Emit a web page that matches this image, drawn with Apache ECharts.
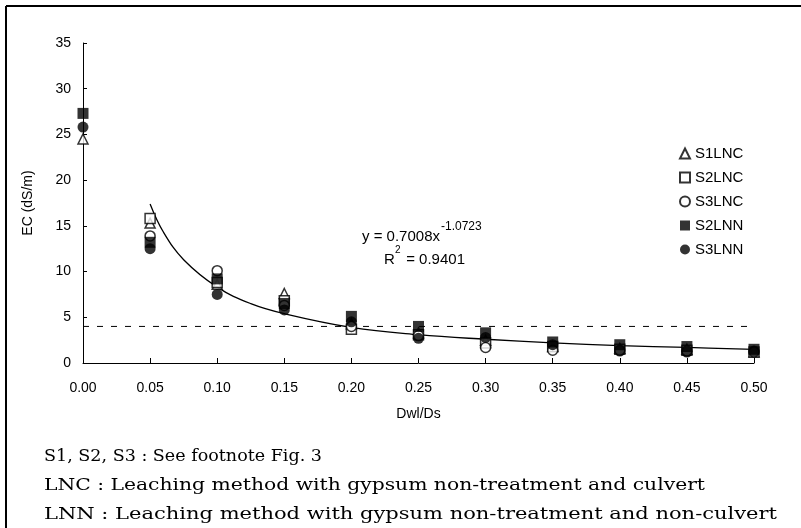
<!DOCTYPE html>
<html>
<head>
<meta charset="utf-8">
<script src="https://cdn.jsdelivr.net/npm/echarts@6/dist/echarts.min.js"></script>
<style>
  html, body { margin: 0; padding: 0; background: #fff; }
  #chart { width: 801px; height: 528px; }
</style>
</head>
<body>
<div id="chart"></div>
<script>
// x positions (Dwl/Ds)
const ratios = [0.00, 0.05, 0.10, 0.15, 0.20, 0.25, 0.30, 0.35, 0.40, 0.45, 0.50];

// EC (dS/m)
const s1lnc = [24.5, 15.3, 8.6, 7.6, 4.3, 3.3, 2.5, 1.8, 1.6, 1.5, 1.2];
const s2lnc = [null, 15.8, 8.8, 6.8, 3.7, 3.1, 2.2, 1.8, 1.5, 1.4, 1.2];
const s3lnc = [null, 13.9, 10.1, 6.3, 4.0, 3.0, 1.7, 1.4, 1.4, 1.3, 1.2];
const s2lnn = [27.3, 13.2, 9.2, 6.5, 5.1, 4.0, 3.3, 2.3, 2.0, 1.8, 1.5];
const s3lnn = [25.8, 12.5, 7.5, 5.8, 4.5, 2.7, 2.8, 2.0, 1.3, 1.2, 1.3];

// power trendline as it is drawn in the figure
const trendX = [0.05, 0.06, 0.075, 0.10, 0.125, 0.15, 0.20, 0.25, 0.30, 0.35, 0.40, 0.45, 0.50];
const trendY = [17.4, 14.3, 11.3, 8.3, 6.5, 5.4, 3.9, 3.1, 2.6, 2.2, 1.9, 1.7, 1.5];

// dashed reference level
const refLevel = 4;
const refEnd = 0.495;

const xTicks = ['0.00', '0.05', '0.10', '0.15', '0.20', '0.25', '0.30', '0.35', '0.40', '0.45', '0.50'];

const footnotes = [
  'S1, S2, S3 : See footnote Fig. 3',
  'LNC : Leaching method with gypsum non-treatment and culvert',
  'LNN : Leaching method with gypsum non-treatment and non-culvert'
];
const footRight = [322, 705, 777]; // where each line ends in the figure

const sans = 'Liberation Sans, Arial, sans-serif';
const serif = '"DejaVu Serif", "Liberation Serif", serif';

const pair = (ys) => ratios.map((x, i) => [x, ys[i]]).filter((d) => d[1] != null);

// the footnote face is wider than anything installed, stretch each line a bit
const ctx = document.createElement('canvas').getContext('2d');
ctx.font = '16px ' + serif;
const footScale = footnotes.map((t, i) => (footRight[i] - 44) / ctx.measureText(t).width);

const chart = echarts.init(document.getElementById('chart'));

const open = { color: '#fff', borderColor: '#000', borderWidth: 1.5 };
const filled = { color: '#000', borderColor: '#000', borderWidth: 0 };

chart.setOption({
  animation: false,
  textStyle: { fontFamily: sans, color: '#000' },
  grid: { left: 83, right: 47, top: 43, bottom: 165, containLabel: false },
  legend: {
    orient: 'vertical',
    left: 674,
    top: 141,
    itemGap: 9,
    itemWidth: 10,
    itemHeight: 10,
    textStyle: { fontSize: 15, color: '#000', fontFamily: sans },
    data: ['S1LNC', 'S2LNC', 'S3LNC', 'S2LNN', 'S3LNN']
  },
  xAxis: {
    type: 'value',
    min: 0,
    max: 0.5,
    interval: 0.05,
    name: 'Dwl/Ds',
    nameLocation: 'middle',
    nameGap: 44,
    nameTextStyle: { fontSize: 14, color: '#000' },
    axisLine: { lineStyle: { color: '#000', width: 1 } },
    axisTick: { inside: true, length: 5, lineStyle: { color: '#000' } },
    axisLabel: {
      fontSize: 14,
      color: '#000',
      margin: 18,
      formatter: (v) => xTicks[Math.round(v / 0.05)]
    },
    splitLine: { show: false }
  },
  yAxis: {
    type: 'value',
    min: 0,
    max: 35,
    interval: 5,
    name: 'EC (dS/m)',
    nameLocation: 'middle',
    nameGap: 48,
    nameTextStyle: { fontSize: 14, color: '#000' },
    axisLine: { show: true, lineStyle: { color: '#000', width: 1 } },
    axisTick: { show: true, inside: true, length: 4, lineStyle: { color: '#000' } },
    axisLabel: { fontSize: 14, color: '#000', margin: 12 },
    splitLine: { show: false }
  },
  series: [
    {
      type: 'line',
      name: 'trend',
      data: trendX.map((x, i) => [x, trendY[i]]),
      smooth: 0.4,
      showSymbol: false,
      lineStyle: { color: '#000', width: 1.3 },
      silent: true,
      z: 1
    },
    {
      type: 'line',
      name: 'ref',
      data: [[0, refLevel], [refEnd, refLevel]],
      showSymbol: false,
      lineStyle: { color: '#000', width: 1, type: [6, 8] },
      silent: true,
      z: 1
    },
    { type: 'scatter', name: 'S1LNC', symbol: 'triangle', symbolSize: 10, data: pair(s1lnc), itemStyle: open, z: 3 },
    { type: 'scatter', name: 'S2LNC', symbol: 'rect', symbolSize: 10, data: pair(s2lnc), itemStyle: open, z: 3 },
    { type: 'scatter', name: 'S3LNC', symbol: 'circle', symbolSize: 10, data: pair(s3lnc), itemStyle: open, z: 3 },
    { type: 'scatter', name: 'S2LNN', symbol: 'rect', symbolSize: 11, data: pair(s2lnn), itemStyle: filled, z: 4 },
    { type: 'scatter', name: 'S3LNN', symbol: 'circle', symbolSize: 11, data: pair(s3lnn), itemStyle: filled, z: 4 }
  ],
  graphic: [
    // figure frame: left and top rules
    { type: 'line', shape: { x1: 6, y1: 6, x2: 801, y2: 6 }, style: { stroke: '#000', lineWidth: 2 } },
    { type: 'line', shape: { x1: 6, y1: 6, x2: 6, y2: 528 }, style: { stroke: '#000', lineWidth: 2 } },
    // fitted equation
    { type: 'text', x: 362, y: 229, style: { text: 'y = 0.7008x', fontSize: 15, fontFamily: sans, fill: '#000' } },
    { type: 'text', x: 441, y: 221, style: { text: '-1.0723', fontSize: 12, fontFamily: sans, fill: '#000' } },
    { type: 'text', x: 384, y: 252, style: { text: 'R', fontSize: 15, fontFamily: sans, fill: '#000' } },
    { type: 'text', x: 395, y: 245, style: { text: '2', fontSize: 10, fontFamily: sans, fill: '#000' } },
    { type: 'text', x: 402, y: 252, style: { text: ' = 0.9401', fontSize: 15, fontFamily: sans, fill: '#000' } },
    ...footnotes.map((t, i) => ({
      type: 'text',
      x: 44,
      y: 449 + i * 29,
      scaleX: footScale[i],
      style: { text: t, fontSize: 16, fontFamily: serif, fill: '#000' }
    }))
  ]
});
</script>
</body>
</html>
